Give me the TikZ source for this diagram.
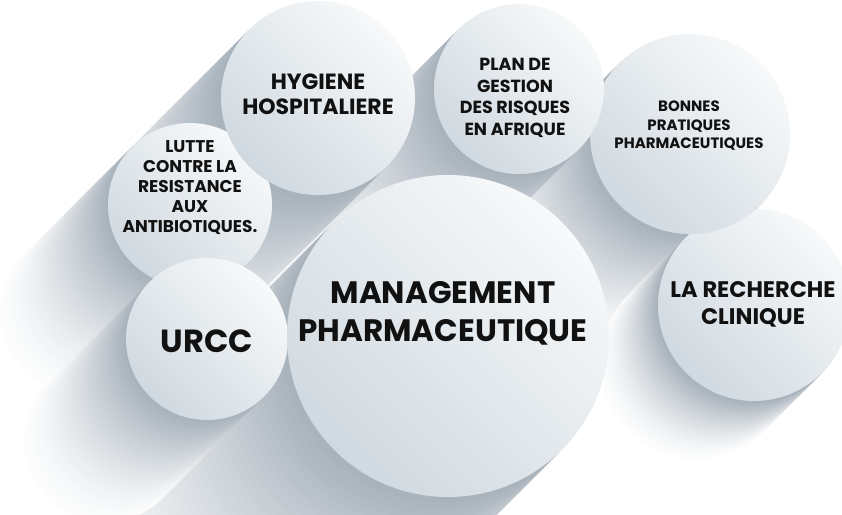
\documentclass[tikz,border=0pt]{standalone}
\usepackage{fontspec}
\newfontfamily\bubblefont{Poppins}
\definecolor{shadowtone}{HTML}{9EA9B4}
\definecolor{bubbletop}{HTML}{F7F9FA}
\definecolor{bubblebot}{HTML}{D0D9E0}
\definecolor{inkblack}{HTML}{111111}

% long shadow: x, y, radius, length
\newcommand{\longshadow}[4]{%
  \foreach \k in {40,39,...,1}{%
    \pgfmathsetmacro{\shd}{90*(1-\k/41)^1.5+2}%
    \fill[shadowtone!\shd] ({#1-#4*\k/40},{#2+#4*\k/40}) circle [radius=#3pt];
  }}
% bubble: x, y, radius
\newcommand{\bubble}[3]{%
  \shade[top color=bubbletop,bottom color=bubblebot,shading angle=-45] (#1,#2) circle [radius=#3pt];}

\tikzset{
  lbl/.style={align=center,text=inkblack,inner sep=0pt},
}

\begin{document}
\begin{tikzpicture}[x=1pt,y=-1pt]
\useasboundingbox (0,0) rectangle (842,514);
\clip (0,0) rectangle (842,514);
\fill[white] (0,0) rectangle (842,514);

% shadows
\longshadow{690}{134}{100}{110}
\longshadow{519}{89}{85}{160}
\longshadow{318}{98}{97}{210}
\longshadow{754}{305}{96}{58}
\longshadow{448}{336}{161}{220}
\longshadow{190}{205}{82}{108}
\longshadow{207}{339}{81}{102}

% bubbles
\bubble{190}{205}{82}
\bubble{318}{98}{97}
\bubble{754}{305}{96}
\bubble{690}{134}{100}
\bubble{519}{89}{85}
\bubble{207}{339}{81}
\bubble{448}{336}{161}

% labels
\node[lbl,font={\bubblefont\bfseries\fontsize{17}{20}\selectfont}] (lutte) at (190,188) {LUTTE\\CONTRE LA\\RESISTANCE\\AUX\\ANTIBIOTIQUES.};
\node[lbl,font={\bubblefont\bfseries\fontsize{22}{25}\selectfont}] (hyg) at (318,94) {HYGIENE\\HOSPITALIERE};
\node[lbl,font={\bubblefont\bfseries\fontsize{17.5}{21.5}\selectfont}] (plan) at (515,98) {PLAN DE\\GESTION\\DES RISQUES\\EN AFRIQUE};
\node[lbl,font={\bubblefont\bfseries\fontsize{15}{18.5}\selectfont}] (bpp) at (689,126) {BONNES\\PRATIQUES\\PHARMACEUTIQUES};
\node[lbl,font={\bubblefont\bfseries\fontsize{22.5}{27}\selectfont}] (rech) at (753,304) {LA RECHERCHE\\CLINIQUE};
\node[lbl,font={\bubblefont\bfseries\fontsize{32}{32}\selectfont}] (urcc) at (207,341) {URCC};
\node[lbl,font={\bubblefont\bfseries\fontsize{31}{38}\selectfont}] (mgmt) at (443,313) {MANAGEMENT\\PHARMACEUTIQUE};
\end{tikzpicture}
\end{document}
